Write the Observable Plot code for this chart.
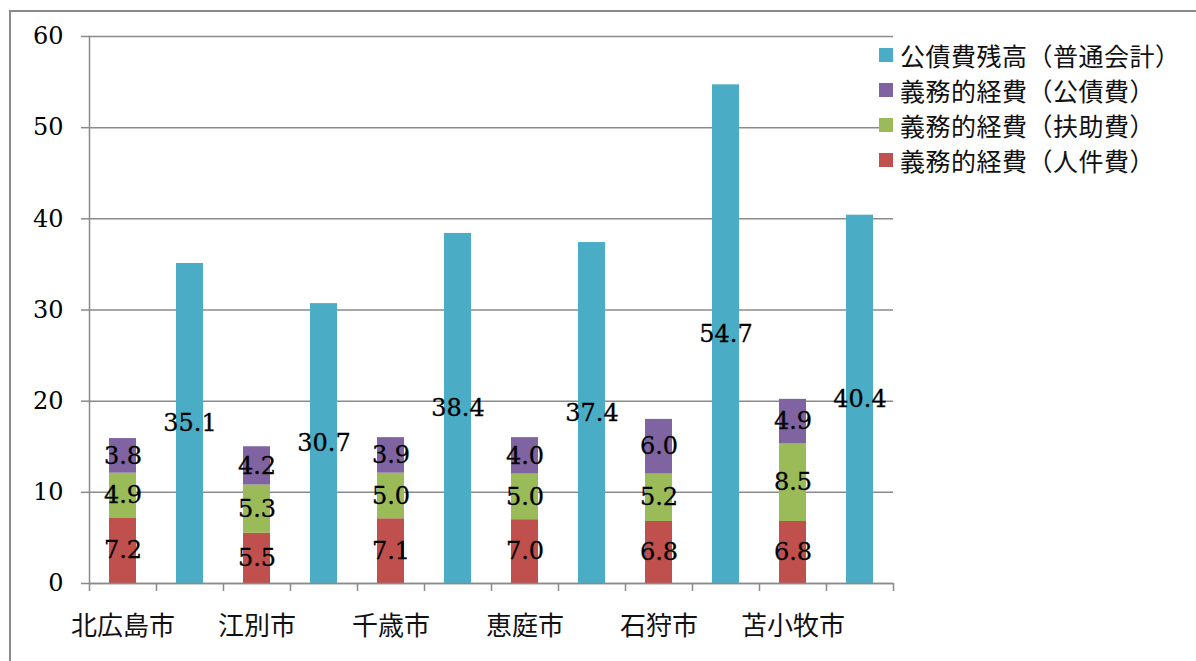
<!DOCTYPE html>
<html>
<head>
<meta charset="utf-8">
<script src="https://cdn.jsdelivr.net/npm/d3@7"></script>
<script src="https://cdn.jsdelivr.net/npm/@observablehq/plot@0.6"></script>
<style>
  html, body { margin: 0; padding: 0; background: #fff; }
  #wrap { position: relative; width: 1196px; height: 661px; overflow: hidden; background: #fff; }
  #border { position: absolute; left: 9px; top: 10px; width: 1300px; height: 800px;
            border-top: 2px solid #8a8a8a; border-left: 2px solid #8a8a8a; box-sizing: border-box; }
  #chart { position: absolute; left: 0; top: 0; }
  #legend { position: absolute; left: 879px; top: 37px; font-family: "Noto Sans CJK JP", sans-serif;
            font-size: 25px; color: #111; letter-spacing: 0.5px; }
  .row { display: flex; align-items: center; height: 35px; }
  .sw { width: 14px; height: 14px; margin-right: 7px; flex: none; }
</style>
</head>
<body>
<div id="wrap">
  <div id="border"></div>
  <div id="chart"></div>
  <div id="legend"></div>
</div>
<script>
// ---- data ----
const cities = ["北広島市", "江別市", "千歳市", "恵庭市", "石狩市", "苫小牧市"];
const personnel = [7.2, 5.5, 7.1, 7.0, 6.8, 6.8];   // 義務的経費（人件費）
const assistance = [4.9, 5.3, 5.0, 5.0, 5.2, 8.5];  // 義務的経費（扶助費）
const debtService = [3.8, 4.2, 3.9, 4.0, 6.0, 4.9]; // 義務的経費（公債費）
const debtBalance = [35.1, 30.7, 38.4, 37.4, 54.7, 40.4]; // 公債費残高（普通会計）
const yTicks = [0, 10, 20, 30, 40, 50, 60];

const S_PERS = "義務的経費（人件費）";
const S_ASSI = "義務的経費（扶助費）";
const S_DEBT = "義務的経費（公債費）";
const S_BAL = "公債費残高（普通会計）";
const seriesOrder = [S_BAL, S_DEBT, S_ASSI, S_PERS];
const seriesColors = ["#4BACC6", "#8064A2", "#9BBB59", "#C0504D"];

// keys: each city has a stacked slot and a balance slot
const keys = cities.flatMap(c => [c + "|s", c + "|b"]);
const stackKeys = cities.map(c => c + "|s");

const stacked = [];
cities.forEach((c, i) => {
  stacked.push({key: c + "|s", series: S_PERS, value: personnel[i]});
  stacked.push({key: c + "|s", series: S_ASSI, value: assistance[i]});
  stacked.push({key: c + "|s", series: S_DEBT, value: debtService[i]});
});
const balance = cities.map((c, i) => ({key: c + "|b", series: S_BAL, value: debtBalance[i]}));

const W = 1196, H = 661, ML = 89, MR = 303, MT = 36, MB = 78;
const step = (W - ML - MR) / keys.length;
const gray = "#8a8a8a";
const numFont = "DejaVu Serif";
const jpFont = "Noto Sans CJK JP";
const numStyle = {fontSize: 24, fontFamily: numFont, fill: "#000", stroke: "#000", strokeWidth: 0.3};

const chart = Plot.plot({
  width: W, height: H,
  marginLeft: ML, marginRight: MR, marginTop: MT, marginBottom: MB,
  style: {background: "transparent", overflow: "visible"},
  x: {type: "band", domain: keys, paddingInner: 0.6, paddingOuter: 0.3, axis: null},
  y: {domain: [0, 60], axis: null},
  color: {domain: seriesOrder, range: seriesColors},
  marks: [
    Plot.gridY(yTicks, {stroke: gray, strokeOpacity: 1, strokeWidth: 1.5}),
    Plot.axisY(yTicks, {tickSize: 8, tickPadding: 18, stroke: gray, strokeWidth: 1.5,
      fontSize: 24, fontFamily: numFont, fill: "#000", label: null, tickFormat: d => d}),
    Plot.frame({anchor: "left", stroke: gray, strokeWidth: 1.5}),
    Plot.axisX(keys, {tickSize: 8, stroke: gray, strokeWidth: 1.5, tickFormat: () => "", dx: -step / 2, label: null}),
    Plot.axisX([keys[keys.length - 1]], {tickSize: 8, stroke: gray, strokeWidth: 1.5, tickFormat: () => "", dx: step / 2, label: null}),
    Plot.axisX(stackKeys, {tickSize: 0, tickPadding: 33, tickFormat: k => k.split("|")[0],
      fontSize: 26, fontFamily: jpFont, fill: "#111", label: null}),
    Plot.barY(stacked, {x: "key", y: "value", fill: "series", order: null}),
    Plot.barY(balance, {x: "key", y: "value", fill: "series"}),
    Plot.text(stacked, Plot.stackY({x: "key", y: "value", z: "series", order: null,
      text: d => d.value.toFixed(1), ...numStyle})),
    Plot.text(balance, Plot.stackY({x: "key", y: "value",
      text: d => d.value.toFixed(1), ...numStyle})),
    Plot.ruleY([0], {stroke: gray, strokeWidth: 1.5})
  ]
});
document.getElementById("chart").appendChild(chart);

// legend
const legend = document.getElementById("legend");
seriesOrder.forEach((s, i) => {
  const row = document.createElement("div");
  row.className = "row";
  const sw = document.createElement("div");
  sw.className = "sw";
  sw.style.background = seriesColors[i];
  const t = document.createElement("span");
  t.textContent = s;
  row.appendChild(sw); row.appendChild(t);
  legend.appendChild(row);
});
</script>
</body>
</html>
